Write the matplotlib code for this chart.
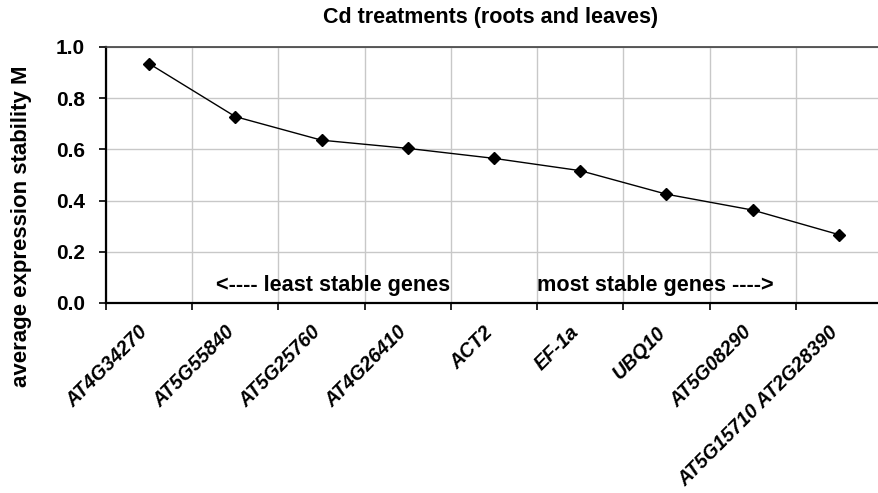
import matplotlib
matplotlib.use("Agg")
import matplotlib.pyplot as plt
import matplotlib.transforms as mtransforms
import numpy as np

genes = ["AT4G34270", "AT5G55840", "AT5G25760", "AT4G26410", "ACT2",
         "EF-1a", "UBQ10", "AT5G08290", "AT5G15710 AT2G28390"]
m_values = [0.935, 0.728, 0.636, 0.604, 0.565, 0.517, 0.425, 0.363, 0.267]
y_ticks = [0.0, 0.2, 0.4, 0.6, 0.8, 1.0]

plt.rcParams['font.family'] = ['Liberation Sans', 'DejaVu Sans']

fig = plt.figure(figsize=(8.79, 4.93), dpi=100)
ax = fig.add_axes([106/879, 1-303/493, 776/879, 256/493])

x = np.arange(len(genes)) + 0.5
ax.plot(x, m_values, color='black', lw=1.0, marker='D', ms=6, mfc='black', mec='black', zorder=3)

ax.set_xlim(0, len(genes))
ax.set_ylim(0, 1.0)
ax.set_yticks(y_ticks)
ax.set_yticklabels([f"{v:.1f}" for v in y_ticks], fontsize=15, fontweight='bold')
ax.set_xticks(np.arange(len(genes)+1))
ax.set_xticklabels([])
ax.set_xticks(x, minor=True)
labels = ax.set_xticklabels(genes, minor=True, rotation=45, ha='right', va='center',
                            rotation_mode='anchor', fontsize=14.2, fontweight='bold',
                            fontstyle='italic')
ax.tick_params(axis='x', which='minor', length=0, pad=19)
ax.tick_params(axis='x', which='major', direction='out', length=5, width=1.2, color='black')
ax.tick_params(axis='y', direction='out', length=5, width=1.2, color='black', pad=10)
offset = mtransforms.ScaledTranslation(-4/100, 0, fig.dpi_scale_trans)
for lab in ax.xaxis.get_minorticklabels():
    lab.set_transform(lab.get_transform() + offset)

ax.grid(True, which='major', color='#c8c8c8', lw=1.0)
ax.set_axisbelow(True)

for s in ['left', 'bottom']:
    ax.spines[s].set_linewidth(1.6)
    ax.spines[s].set_color('black')
ax.spines['top'].set_linewidth(1.2)
ax.spines['top'].set_color('#404040')
ax.spines['right'].set_visible(False)

fig.text(491/879, 1-18/493, "Cd treatments (roots and leaves)", fontsize=15.5,
         fontweight='bold', ha='center', va='center')
fig.text(22/879, 1-226/493, "average expression stability M", fontsize=16,
         fontweight='bold', ha='center', va='center', rotation=90)

fig.text(216/879, 1-285/493, "<---- least stable genes",
         fontsize=15.6, fontweight='bold', ha='left', va='center')
fig.text(537/879, 1-285/493, "most stable genes ---->",
         fontsize=15.6, fontweight='bold', ha='left', va='center')

fig.savefig("out.png", dpi=100)
